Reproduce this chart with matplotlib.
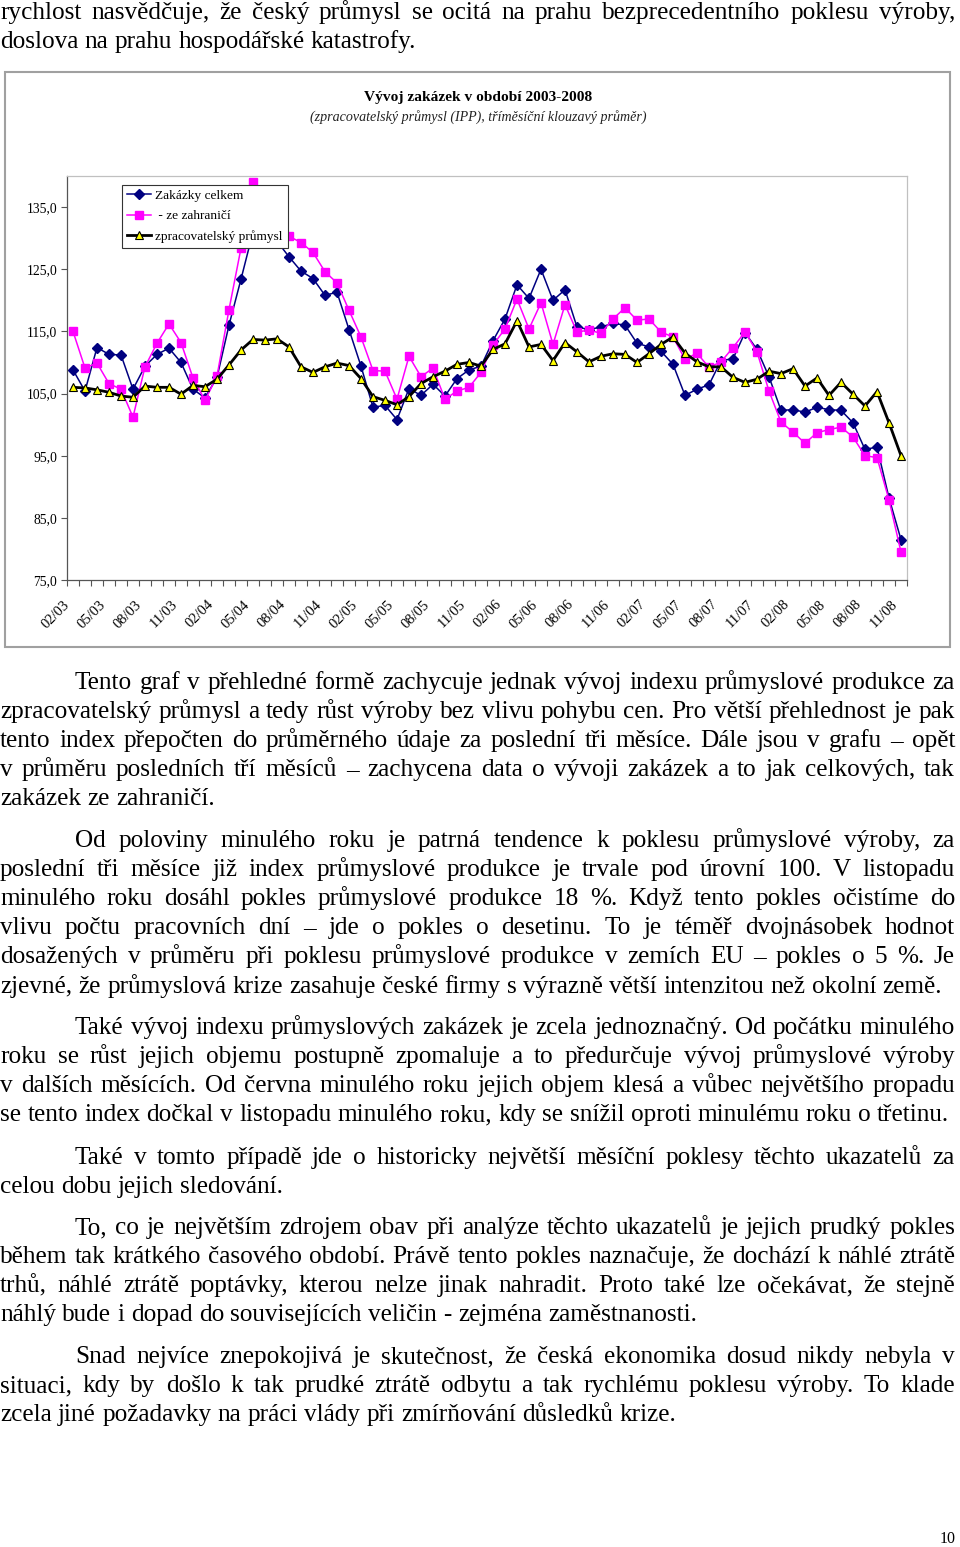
import matplotlib
matplotlib.use("Agg")
import matplotlib.pyplot as plt
import numpy as np

# --- data (3-month moving averages, 02/03 .. 11/08) ---
zakazky_celkem = [108.8, 105.4, 112.4, 111.3, 111.2, 105.7, 109.4, 111.3, 112.3, 110.0,
                  105.7, 104.3, 107.6, 116.0, 123.4, 131.0, 131.5, 129.5, 127.0, 124.7,
                  123.5, 120.8, 121.3, 115.3, 109.4, 102.8, 103.1, 100.8, 105.8, 104.7,
                  106.5, 104.6, 107.4, 108.8, 109.4, 113.5, 117.0, 122.5, 120.3, 125.0,
                  120.0, 121.7, 115.7, 115.3, 115.7, 116.3, 116.0, 113.1, 112.5, 111.8,
                  109.7, 104.7, 105.7, 106.4, 110.3, 110.6, 114.8, 112.1, 107.7, 102.3,
                  102.4, 102.0, 102.8, 102.4, 102.3, 100.3, 96.0, 96.4, 88.2, 81.5]
ze_zahranici = [115.0, 109.1, 109.9, 106.6, 105.7, 101.2, 109.3, 113.1, 116.2, 113.2,
                107.5, 103.9, 107.8, 118.5, 128.4, 139.1, 135.5, 132.5, 130.3, 129.3,
                127.7, 124.6, 122.8, 118.4, 114.1, 108.7, 108.6, 104.1, 111.0, 107.7,
                109.1, 104.1, 105.4, 106.0, 108.4, 112.8, 115.4, 120.2, 115.4, 119.6,
                112.9, 119.3, 114.9, 115.2, 114.7, 117.0, 118.8, 116.8, 117.0, 114.9,
                114.1, 110.5, 111.5, 109.2, 110.1, 112.4, 114.9, 111.7, 105.4, 100.4,
                98.8, 97.0, 98.7, 99.2, 99.6, 98.0, 95.0, 94.7, 87.9, 79.5]
zpracovatelsky = [106.0, 105.9, 105.6, 105.2, 104.6, 104.4, 106.2, 106.0, 106.0, 104.9,
                  106.3, 106.1, 107.3, 109.6, 112.0, 113.7, 113.6, 113.8, 112.5, 109.3,
                  108.4, 109.3, 109.9, 109.5, 107.4, 104.5, 103.9, 103.2, 104.5, 106.6,
                  107.7, 108.6, 109.7, 110.0, 109.4, 112.1, 113.0, 116.7, 112.5, 112.9,
                  110.3, 113.2, 111.7, 110.1, 111.0, 111.4, 111.3, 110.0, 111.4, 112.9,
                  114.1, 111.5, 110.1, 109.3, 109.3, 107.6, 106.8, 107.3, 108.6, 108.2,
                  109.0, 106.2, 107.5, 104.7, 106.8, 104.9, 103.0, 105.3, 100.3, 95.0]
x_labels = ['02/03', '05/03', '08/03', '11/03', '02/04', '05/04', '08/04', '11/04',
            '02/05', '05/05', '08/05', '11/05', '02/06', '05/06', '08/06', '11/06',
            '02/07', '05/07', '08/07', '11/07', '02/08', '05/08', '08/08', '11/08']
y_ticks = [75, 85, 95, 105, 115, 125, 135]

W, H = 960, 1547
SERIF = 'Liberation Serif'
BODY_SIZE = 18.2
NB = '\u00a0'  # nezlomitelna mezera (k poklesu, v tomto ...)

fig = plt.figure(figsize=(W / 100, H / 100), dpi=100)
renderer = fig.canvas.get_renderer()


def fx(x):
    return x / W


def fy(y):
    return 1 - y / H


# --- zarovnani textu do bloku ---
def text_line(txt, y, x0=0, x1=955, justify=True, size=BODY_SIZE):
    words = txt.split()
    objs = [fig.text(0, fy(y), w, fontsize=size, family=SERIF, va='baseline') for w in words]
    widths = [o.get_window_extent(renderer).width for o in objs]
    if justify and len(words) > 1:
        gap = (x1 - x0 - sum(widths)) / (len(words) - 1)
    else:
        gap = size * 100 / 72 * 0.25
    x = x0
    for o, w in zip(objs, widths):
        o.set_x(fx(x))
        x += w + gap


# top of page
text_line("rychlost nasvědčuje, že český průmysl se ocitá na prahu bezprecedentního poklesu výroby,", 19)
text_line("doslova na prahu hospodářské katastrofy.", 48, justify=False)

# --- chart frame ---
frame = plt.Rectangle((fx(5), fy(647)), fx(945), 575 / H, transform=fig.transFigure,
                      fill=False, edgecolor='#a0a0a0', lw=1.5)
fig.add_artist(frame)
fig.text(fx(478), fy(98), "Vývoj zakázek v období 2003-2008", ha='center', va='center',
         fontsize=11.1, fontweight='bold', family=SERIF)
fig.text(fx(478), fy(117), "(zpracovatelský průmysl (IPP), tříměsíční klouzavý průměr)",
         ha='center', va='center', fontsize=10.1, style='italic', family=SERIF, color='#222222')

ax = fig.add_axes([fx(67), fy(580), 840 / W, 404 / H])
x = np.arange(len(zakazky_celkem))
ax.plot(x, zakazky_celkem, color='#000080', lw=1.1, marker='D', ms=5,
        mfc='#000080', mec='#000080', label='Zakázky celkem')
ax.plot(x, ze_zahranici, color='#ff00ff', lw=1.1, marker='s', ms=5.5,
        mfc='#ff00ff', mec='#ff00ff', label=' - ze zahraničí')
ax.plot(x, zpracovatelsky, color='black', lw=2, marker='^', ms=6,
        mfc='#ffff00', mec='black', mew=0.8, label='zpracovatelský průmysl')

ax.set_yticks(y_ticks)
ax.set_yticklabels([f"{v},0" for v in y_ticks], family=SERIF, fontsize=9.8)
ax.set_xticks([])
ax.set_xticks(np.arange(-0.5, len(x), 1), minor=True)
ax.set_xlim(-0.5, len(x) - 0.5)
ax.set_ylim(75, 140)
# popisky osy x (kazdy 3. mesic), posunute doleva od stredu kategorie jako v Excelu
for pos, lab in zip(np.arange(0, len(x), 3), x_labels):
    ax.annotate(lab, xy=(pos, 0), xycoords=('data', 'axes fraction'), xytext=(-10, -18),
                textcoords='offset pixels', rotation=45, ha='right', va='top',
                rotation_mode='anchor', family=SERIF, fontsize=10.5, annotation_clip=False)
ax.tick_params(axis='x', which='minor', length=4, color='#555555', width=0.8)
ax.tick_params(axis='y', length=4, color='#555555', width=0.8, pad=3)
for s in ['top', 'right']:
    ax.spines[s].set_color('#c0c0c0')
for s in ['left', 'bottom']:
    ax.spines[s].set_color('#555555')
for s in ax.spines.values():
    s.set_linewidth(0.9)

leg = ax.legend(loc='upper left', bbox_to_anchor=(fx(122), fy(185)), bbox_transform=fig.transFigure,
                prop={'family': SERIF, 'size': 9.6}, frameon=True, fancybox=False,
                framealpha=1, edgecolor='#333333', borderpad=0.35, labelspacing=0.6,
                handlelength=1.8, handletextpad=0.35, borderaxespad=0)
leg.get_frame().set_linewidth(0.8)

# --- body text ---
body = [
    ("Tento graf v přehledné formě zachycuje jednak vývoj indexu průmyslové produkce za", 689, 75, True),
    ("zpracovatelský průmysl a tedy růst výroby bez vlivu pohybu cen. Pro větší přehlednost je pak", 718, 0, True),
    ("tento index přepočten do průměrného údaje za poslední tři měsíce. Dále jsou v grafu – opět", 747, 0, True),
    ("v průměru posledních tří měsíců – zachycena data o vývoji zakázek a to jak celkových, tak", 776, 0, True),
    ("zakázek ze zahraničí.", 805, 0, False),
    (f"Od poloviny minulého roku je patrná tendence k{NB}poklesu průmyslové výroby, za", 847, 75, True),
    (f"poslední tři měsíce již index průmyslové produkce je trvale pod úrovní 100. V{NB}listopadu", 876, 0, True),
    ("minulého roku dosáhl pokles průmyslové produkce 18 %. Když tento pokles očistíme do", 905, 0, True),
    ("vlivu počtu pracovních dní – jde o pokles o desetinu. To je téměř dvojnásobek hodnot", 934, 0, True),
    ("dosažených v průměru při poklesu průmyslové produkce v zemích EU – pokles o 5 %. Je", 963, 0, True),
    (f"zjevné, že průmyslová krize zasahuje české firmy s{NB}výrazně větší intenzitou než okolní země.", 993, 0, False),
    ("Také vývoj indexu průmyslových zakázek je zcela jednoznačný. Od počátku minulého", 1034, 75, True),
    ("roku se růst jejich objemu postupně zpomaluje a to předurčuje vývoj průmyslové výroby", 1063, 0, True),
    (f"v{NB}dalších měsících. Od června minulého roku jejich objem klesá a vůbec největšího propadu", 1092, 0, True),
    (f"se tento index dočkal v{NB}listopadu minulého roku, kdy se snížil oproti minulému roku o{NB}třetinu.", 1121, 0, False),
    (f"Také v{NB}tomto případě jde o historicky největší měsíční poklesy těchto ukazatelů za", 1164, 75, True),
    ("celou dobu jejich sledování.", 1193, 0, False),
    ("To, co je největším zdrojem obav při analýze těchto ukazatelů je jejich prudký pokles", 1234, 75, True),
    (f"během tak krátkého časového období. Právě tento pokles naznačuje, že dochází k{NB}náhlé ztrátě", 1263, 0, True),
    ("trhů, náhlé ztrátě  poptávky, kterou nelze jinak nahradit. Proto také lze očekávat, že stejně", 1292, 0, True),
    ("náhlý bude i dopad do souvisejících veličin - zejména zaměstnanosti.", 1321, 0, False),
    ("Snad nejvíce znepokojivá je skutečnost, že česká ekonomika dosud nikdy nebyla v", 1363, 75, True),
    (f"situaci, kdy by došlo k{NB}tak prudké ztrátě odbytu a tak rychlému poklesu výroby. To klade", 1392, 0, True),
    ("zcela jiné požadavky na práci vlády při zmírňování důsledků krize.", 1421, 0, False),
]
for txt, y, x0, just in body:
    text_line(txt, y, x0=x0, justify=just)

fig.text(fx(956), fy(1543), "10", ha='right', va='baseline', fontsize=11.5, family=SERIF)

fig.savefig("out.png", dpi=100)
